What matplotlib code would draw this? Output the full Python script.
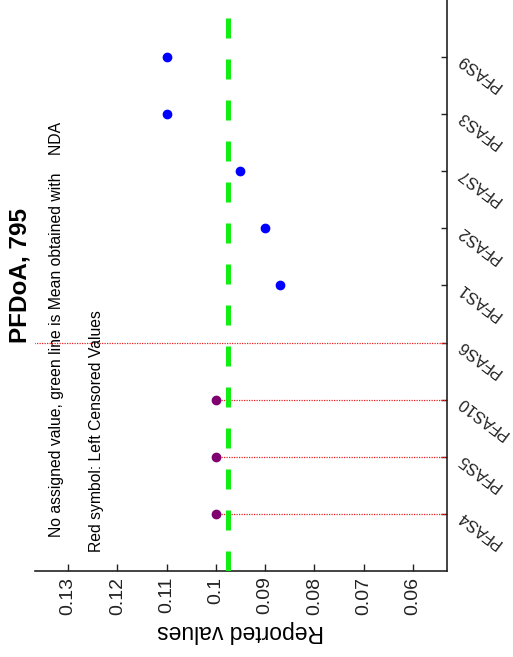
import matplotlib
matplotlib.use('Agg')
import matplotlib.pyplot as plt

plt.rcParams['font.family'] = ['Liberation Sans', 'DejaVu Sans']

# data
labs = ['PFAS4', 'PFAS5', 'PFAS10', 'PFAS6', 'PFAS1', 'PFAS2', 'PFAS7', 'PFAS3', 'PFAS9']
vals = [0.10, 0.10, 0.10, 0.20, 0.087, 0.090, 0.095, 0.110, 0.110]
cens = [True, True, True, True, False, False, False, False, False]
show_pt = [True, True, True, False, True, True, True, True, True]
mean_nda = 0.0976
ticks = [0.13, 0.12, 0.11, 0.1, 0.09, 0.08, 0.07, 0.06]
tick_labs = ['0.13', '0.12', '0.11', '0.1', '0.09', '0.08', '0.07', '0.06']

fig = plt.figure(figsize=(5.13, 6.57), dpi=100)
ax = fig.add_axes([0.0682, 0.1309, 0.8031, 0.8691])

pos = list(range(1, len(labs) + 1))

# left censored values: dotted red line from value down to zero
for p, v, c in zip(pos, vals, cens):
    if c:
        ax.plot([v, 0], [p, p], color='#ee2222', lw=0.9, linestyle=(0, (1, 1)), zorder=2)

# mean line
ax.plot([mean_nda, mean_nda], [0, 10], color='#11ee11', lw=3.6,
        linestyle=(0, (4.0, 4.2)), zorder=3)

for p, v, c, s in zip(pos, vals, cens, show_pt):
    if not s:
        continue
    col = '#800070' if c else '#0000ff'
    ax.plot(v, p, 'o', color=col, ms=6, mec=col, zorder=4)

ax.set_xlim(0.1367, 0.0531)
ax.set_ylim(0, 10)

ax.spines['left'].set_visible(False)
ax.spines['top'].set_visible(False)
for s in ['bottom', 'right']:
    ax.spines[s].set_linewidth(1.2)
    ax.spines[s].set_color('#222222')

ax.set_xticks(ticks)
ax.set_xticklabels(tick_labs, rotation=90, va='top', fontsize=14)
ax.tick_params(axis='x', direction='in', length=5, width=1, pad=4, colors='#222222')

ax.yaxis.tick_right()
ax.set_yticks(pos)
ax.set_yticklabels(labs, fontsize=11.8)
ax.tick_params(axis='y', direction='in', length=4.5, width=1, pad=9, colors='#222222')
for lbl in ax.get_yticklabels():
    lbl.set_rotation(143)
    lbl.set_rotation_mode('anchor')
    lbl.set_ha('right')
    lbl.set_va('center')

ax.set_xlabel('Reported values', fontsize=16.5, rotation=180, labelpad=4)

fig.text(0.039, 0.58, 'PFDoA, 795', rotation=90, fontsize=17.5, fontweight='bold',
         ha='center', va='center')
fig.text(0.111, 0.183, 'No assigned value, green line is Mean obtained with    NDA',
         rotation=90, fontsize=11.3, ha='center', va='bottom')
fig.text(0.189, 0.160, 'Red symbol: Left Censored Values', rotation=90, fontsize=11.3,
         ha='center', va='bottom')

plt.savefig('out.png', dpi=100)
plt.close()
